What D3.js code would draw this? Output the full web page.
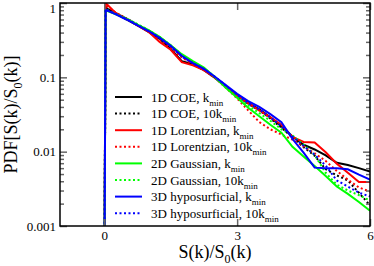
<!DOCTYPE html>
<html>
<head>
<meta charset="utf-8">
<script src="https://cdn.jsdelivr.net/npm/d3@7"></script>
<style>
  body { margin: 0; background: #fff; }
  svg { display: block; font-family: "Liberation Serif", "Times New Roman", serif; }
</style>
</head>
<body>
<div id="chart"></div>
<script>
// x grid shared by all curves
const xValues = [0, 0.03, 0.25, 0.5, 0.75, 1, 1.25, 1.5, 1.75, 2, 2.25, 2.5, 2.75, 3,
    3.25, 3.5, 3.75, 4, 4.25, 4.5, 4.75, 5, 5.25, 5.5, 5.75, 6];

const coeK   = [1e-4, 0.86, 0.73, 0.60, 0.50, 0.41, 0.33, 0.24, 0.165, 0.15, 0.125, 0.098, 0.074, 0.056,
    0.045, 0.037, 0.029, 0.022, 0.016, 0.0124, 0.0107, 0.0089, 0.0071, 0.0066, 0.0060, 0.0054];
const coe10K = [1e-4, 0.87, 0.74, 0.62, 0.51, 0.43, 0.34, 0.26, 0.19, 0.155, 0.127, 0.10, 0.076, 0.057,
    0.044, 0.036, 0.028, 0.021, 0.0155, 0.0115, 0.0088, 0.0058, 0.0048, 0.0041, 0.0028, 0.0019];
const lorK   = [1e-4, 1.0, 0.74, 0.61, 0.50, 0.41, 0.30, 0.235, 0.16, 0.145, 0.125, 0.10, 0.075, 0.057,
    0.045, 0.036, 0.029, 0.023, 0.0158, 0.0135, 0.0133, 0.0098, 0.0069, 0.0052, 0.0039, 0.0039];
const lor10K = [1e-4, 0.95, 0.75, 0.61, 0.50, 0.42, 0.33, 0.25, 0.185, 0.15, 0.125, 0.098, 0.072, 0.052,
    0.036, 0.025, 0.020, 0.017, 0.0145, 0.0118, 0.0095, 0.0075, 0.0055, 0.0042, 0.0033, 0.0029];
const gauK   = [1e-4, 0.80, 0.71, 0.61, 0.51, 0.43, 0.35, 0.27, 0.205, 0.165, 0.135, 0.10, 0.072, 0.053,
    0.039, 0.030, 0.023, 0.018, 0.0116, 0.0086, 0.0064, 0.0047, 0.0034, 0.0027, 0.0021, 0.0016];
const gau10K = [1e-4, 0.82, 0.72, 0.62, 0.52, 0.43, 0.35, 0.27, 0.20, 0.16, 0.132, 0.102, 0.075, 0.056,
    0.042, 0.033, 0.026, 0.020, 0.0165, 0.0125, 0.0090, 0.0052, 0.0036, 0.0030, 0.0026, 0.0022];
const hypK   = [1e-4, 0.81, 0.71, 0.60, 0.50, 0.42, 0.34, 0.265, 0.195, 0.155, 0.13, 0.102, 0.078, 0.06,
    0.048, 0.040, 0.032, 0.025, 0.0148, 0.0097, 0.0061, 0.0060, 0.0060, 0.0058, 0.0049, 0.0042];
const hyp10K = [1e-4, 0.82, 0.72, 0.61, 0.505, 0.42, 0.34, 0.26, 0.19, 0.155, 0.129, 0.101, 0.077, 0.058,
    0.045, 0.037, 0.029, 0.022, 0.016, 0.012, 0.0091, 0.0065, 0.0041, 0.0034, 0.0028, 0.0025];

const labels = ["1D COE, ", "1D COE, 10", "1D Lorentzian, ", "1D Lorentzian, 10",
    "2D Gaussian, ", "2D Gaussian, 10", "3D hyposurficial, ", "3D hyposurficial, 10"];
const seriesValues = [coeK, coe10K, lorK, lor10K, gauK, gau10K, hypK, hyp10K];

const xTicks = [0, 3, 6];
const yTicks = [0.001, 0.01, 0.1, 1];

const colors = ["#000000", "#000000", "#ff0000", "#ff0000", "#00ff00", "#00ff00", "#0000ff", "#0000ff"];

const width = 374, height = 266;
const plot = {left: 60, right: 370, top: 3, bottom: 226};

const svg = d3.select("#chart").append("svg")
    .attr("width", width)
    .attr("height", height);

const x = d3.scaleLinear().domain([-1, 6]).range([plot.left, plot.right]);
const y = d3.scaleLog().domain([0.001, 1]).range([plot.bottom, plot.top]);

// minor ticks on the log axis
const yMinor = [];
[0.001, 0.01, 0.1].forEach(d => {
    for (let m = 2; m <= 9; m++) yMinor.push(d * m);
});

svg.append("clipPath").attr("id", "clip")
    .append("rect")
    .attr("x", plot.left).attr("y", plot.top)
    .attr("width", plot.right - plot.left).attr("height", plot.bottom - plot.top);

// curves
const line = d3.line()
    .x(d => x(d[0]))
    .y(d => y(d[1]));

const curves = svg.append("g").attr("clip-path", "url(#clip)");
seriesValues.forEach((vals, i) => {
    curves.append("path")
        .datum(xValues.map((xv, j) => [xv, vals[j]]))
        .attr("fill", "none")
        .attr("stroke", colors[i])
        .attr("stroke-width", 2)
        .attr("stroke-dasharray", i % 2 ? "2,2.5" : null)
        .attr("d", line);
});

// axes (ticks pointing inward)
function styleAxis(g) {
    g.select(".domain").remove();
    g.selectAll(".tick line").attr("stroke", "#666").attr("stroke-width", 1.5);
    g.selectAll("text").attr("font-family", "Liberation Serif").attr("font-size", 13).attr("fill", "#000");
}

svg.append("g")
    .attr("transform", "translate(0," + plot.bottom + ")")
    .call(d3.axisBottom(x).tickValues(xTicks).tickSize(-7).tickPadding(5).tickFormat(d3.format("d")))
    .call(styleAxis);

svg.append("g")
    .attr("transform", "translate(0," + plot.top + ")")
    .call(d3.axisTop(x).tickValues(xTicks).tickSize(-7).tickFormat(""))
    .call(styleAxis);

svg.append("g")
    .attr("transform", "translate(" + plot.left + ",0)")
    .call(d3.axisLeft(y).tickValues(yTicks).tickSize(-7).tickPadding(4).tickFormat(d => String(d)))
    .call(styleAxis)
    .selectAll(".tick text")
    .filter(d => d === 1)
    .attr("dy", "0.75em");

svg.append("g")
    .attr("transform", "translate(" + plot.left + ",0)")
    .call(d3.axisLeft(y).tickValues(yMinor).tickSize(-4).tickFormat(""))
    .call(styleAxis);

svg.append("g")
    .attr("transform", "translate(" + plot.right + ",0)")
    .call(d3.axisRight(y).tickValues(yTicks).tickSize(-7).tickFormat(""))
    .call(styleAxis);

svg.append("g")
    .attr("transform", "translate(" + plot.right + ",0)")
    .call(d3.axisRight(y).tickValues(yMinor).tickSize(-4).tickFormat(""))
    .call(styleAxis);

// frame
svg.append("rect")
    .attr("x", plot.left).attr("y", plot.top)
    .attr("width", plot.right - plot.left).attr("height", plot.bottom - plot.top)
    .attr("fill", "none")
    .attr("stroke", "#000")
    .attr("stroke-width", 1.5);

// axis titles
const xt = svg.append("text")
    .attr("x", (plot.left + plot.right) / 2)
    .attr("y", 258)
    .attr("text-anchor", "middle")
    .attr("font-size", 18);
xt.append("tspan").text("S(k)/S");
xt.append("tspan").attr("font-size", 12).attr("dy", 5).text("0");
xt.append("tspan").attr("dy", -5).text("(k)");

const yt = svg.append("text")
    .attr("transform", "translate(17," + (plot.top + plot.bottom) / 2 + ") rotate(-90)")
    .attr("text-anchor", "middle")
    .attr("font-size", 18);
yt.append("tspan").text("PDF[S(k)/S");
yt.append("tspan").attr("font-size", 12).attr("dy", 5).text("0");
yt.append("tspan").attr("dy", -5).text("(k)]");

// legend
const legend = svg.append("g");
labels.forEach((lab, i) => {
    const ly = 97 + i * 16.6;
    legend.append("line")
        .attr("x1", 115).attr("x2", 142)
        .attr("y1", ly).attr("y2", ly)
        .attr("stroke", colors[i])
        .attr("stroke-width", 2)
        .attr("stroke-dasharray", i % 2 ? "2,2.5" : null);
    const t = legend.append("text")
        .attr("x", 151)
        .attr("y", ly + 4.5)
        .attr("font-size", 13);
    t.append("tspan").text(lab + "k");
    t.append("tspan").attr("font-size", 9).attr("dy", 4).text("min");
});
</script>
</body>
</html>
